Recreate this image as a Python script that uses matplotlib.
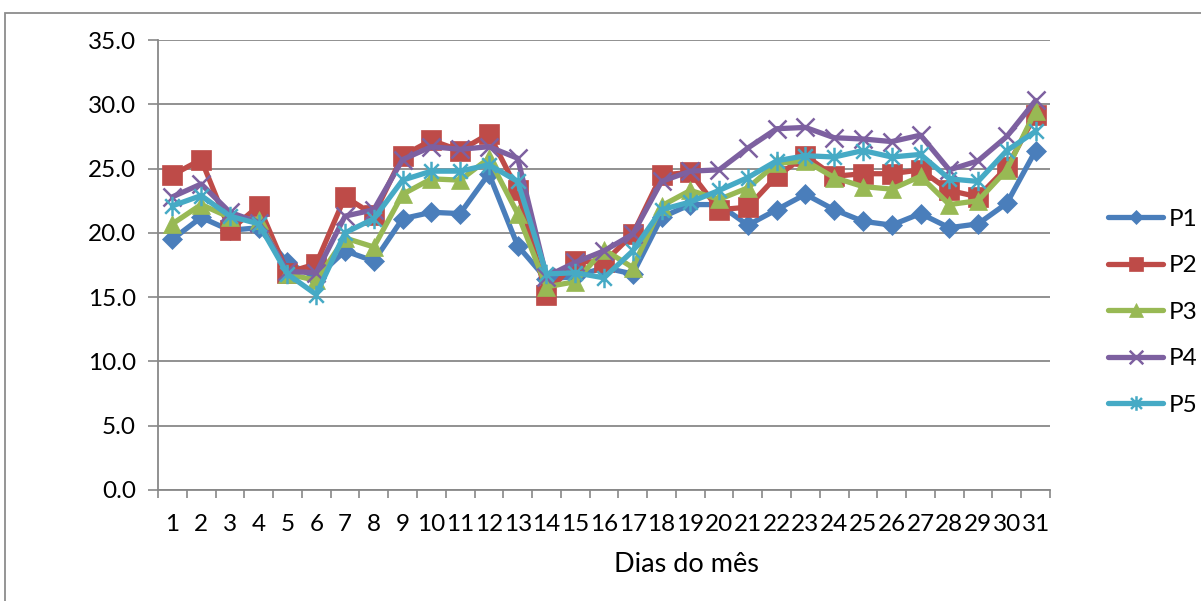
import numpy as np
import matplotlib
matplotlib.use("Agg")
import matplotlib.pyplot as plt
from matplotlib.path import Path
from matplotlib.patches import Rectangle

days = list(range(1, 32))
p1 = [19.5, 21.2, 20.2, 20.4, 17.7, 16.5, 18.6, 17.8, 21.1, 21.6, 21.5, 24.6, 19.0, 16.4, 16.6, 17.3,
      16.8, 21.2, 22.2, 22.2, 20.6, 21.8, 23.0, 21.8, 20.9, 20.6, 21.5, 20.4, 20.7, 22.3, 26.4]
p2 = [24.5, 25.7, 20.2, 22.1, 16.9, 17.6, 22.8, 21.4, 26.0, 27.2, 26.4, 27.7, 23.3, 15.2, 17.8, 17.7,
      19.9, 24.5, 24.7, 21.8, 22.0, 24.4, 26.0, 24.4, 24.6, 24.6, 24.9, 23.3, 22.8, 25.1, 29.2]
p3 = [20.7, 22.2, 21.2, 21.0, 16.8, 16.3, 19.6, 18.9, 23.0, 24.2, 24.1, 25.8, 21.5, 15.8, 16.2, 18.7,
      17.3, 22.1, 23.3, 22.6, 23.5, 25.4, 25.6, 24.3, 23.6, 23.4, 24.4, 22.2, 22.5, 24.9, 29.5]
p4 = [22.8, 23.8, 21.6, 20.8, 17.0, 16.9, 21.3, 21.8, 25.7, 26.7, 26.5, 26.7, 25.8, 16.6, 17.7, 18.6,
      19.9, 24.0, 24.8, 24.9, 26.6, 28.1, 28.2, 27.4, 27.3, 27.1, 27.6, 24.9, 25.6, 27.5, 30.3]
p5 = [22.1, 22.9, 21.3, 20.7, 16.8, 15.2, 20.0, 21.1, 24.1, 24.8, 24.8, 25.3, 24.0, 16.8, 16.9, 16.5,
      18.6, 21.8, 22.4, 23.3, 24.3, 25.6, 26.0, 25.9, 26.4, 25.9, 26.1, 24.2, 24.0, 26.4, 27.9]
series_names = ["P1", "P2", "P3", "P4", "P5"]
y_ticks = [0, 5, 10, 15, 20, 25, 30, 35]
x_label = "Dias do mês"

colors = ["#4A7EBB", "#BE4B48", "#98B954", "#7D60A0", "#46AAC5"]

star = Path([(0, -1), (0, 1), (-0.75, -0.75), (0.75, 0.75), (-0.75, 0.75), (0.75, -0.75)],
            [Path.MOVETO, Path.LINETO, Path.MOVETO, Path.LINETO, Path.MOVETO, Path.LINETO])
xmark = Path([(-1, -1), (1, 1), (-1, 1), (1, -1)],
             [Path.MOVETO, Path.LINETO, Path.MOVETO, Path.LINETO])
markers = ["D", "s", "^", xmark, star]
msizes = [10, 14, 13, 13, 14]

plt.rcParams['font.family'] = ['Lato', 'DejaVu Sans']

fig = plt.figure(figsize=(12.01, 6.01), dpi=100)
fig.patches.append(Rectangle((5 / 1201, -0.1), 1.2, (1 - 13 / 601) + 0.1, transform=fig.transFigure,
                             fill=False, edgecolor="#8c8c8c", linewidth=1.3))
ax = fig.add_axes([158 / 1201, 1 - 490 / 601, (1050 - 158) / 1201, (490 - 40) / 601])

for data, name, c, m, ms in zip([p1, p2, p3, p4, p5], series_names, colors, markers, msizes):
    if m is xmark or m is star:
        ax.plot(days, data, color=c, linewidth=3.8, marker=m, markersize=ms,
                markeredgecolor=c, markeredgewidth=1.8, label=name, solid_capstyle="round")
    else:
        ax.plot(days, data, color=c, linewidth=3.8, marker=m, markersize=ms,
                markeredgecolor=c, markerfacecolor=c, markeredgewidth=0.5, label=name,
                solid_capstyle="round")

ax.set_xlim(0.5, 31.5)
ax.set_ylim(0, 35)
ax.set_yticks(y_ticks)
ax.set_yticklabels([f"{v:.1f}" for v in y_ticks])
ax.set_xticks(np.arange(0.5, 32, 1))
ax.set_xticklabels([])
ax.set_xticks(days, minor=True)
ax.set_xticklabels([str(d) for d in days], minor=True)
ax.tick_params(axis="x", which="major", length=6, color="#888888", width=1.2)
ax.tick_params(axis="x", which="minor", length=0, labelsize=17.5, pad=17)
ax.tick_params(axis="y", length=7, color="#888888", width=1.2, labelsize=17.5, pad=9)
ax.yaxis.grid(True, color="#888888", linewidth=1.3)
ax.set_axisbelow(True)
for s in ["top", "right"]:
    ax.spines[s].set_visible(False)
for s in ["left", "bottom"]:
    ax.spines[s].set_color("#888888")
    ax.spines[s].set_linewidth(1.3)
ax.set_xlabel(x_label, fontsize=19.5)
ax.xaxis.set_label_coords((686 - 158) / 892, -(565 - 490) / 450, transform=ax.transAxes)
ax.xaxis.label.set_va("center")

ax.legend(loc="center left", bbox_to_anchor=(1.04, 0.395), frameon=False, fontsize=17.5,
          handlelength=2.3, labelspacing=1.05, handletextpad=0.2, markerscale=0.75)

fig.savefig("out.png", dpi=100)
